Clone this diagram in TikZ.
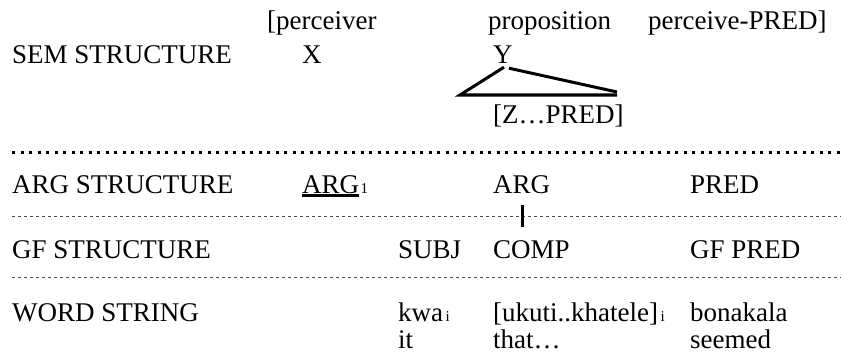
\documentclass[tikz,border=0pt]{standalone}
\usepackage{fontspec}
\setmainfont{Liberation Serif}
\begin{document}
\begin{tikzpicture}[x=1pt,y=-1pt,
  txt/.style={anchor=base west,inner sep=0pt,font=\fontsize{27}{27}\selectfont},
  sub/.style={anchor=base west,inner sep=0pt,font=\fontsize{15}{15}\selectfont},
  heavy/.style={line width=3pt},
  bigdots/.style={line width=3pt,dash pattern=on 3pt off 5.5pt},
  smalldots/.style={line width=0.8pt,dash pattern=on 3pt off 3pt,black!70}]
\useasboundingbox (0,0) rectangle (841,353);
% row 0
\node[txt] (perc) at (267,30) {[perceiver};
\node[txt] (prop) at (488,30) {proposition};
\node[txt] (pp) at (648,30) {perceive-PRED]};
% SEM
\node[txt] (sem) at (12,64) {SEM STRUCTURE};
\node[txt] (X) at (302,64) {X};
\node[txt] (Y) at (493,64) {Y};
\coordinate (tl) at (460,95);
\coordinate (tr) at (617,95);
\coordinate (trr) at (617,92);
\draw[heavy] ([xshift=1pt,yshift=-3pt]Y.south) -- (tl) -- (tr);
\draw[heavy] ([xshift=6pt,yshift=-4pt]Y.south) -- (trr);
\node[txt] (zp) at (493,123) {[Z…PRED]};
% dotted 1
\coordinate (d1a) at (12,152);
\coordinate (d1b) at (841,152);
\draw[bigdots] (d1a) -- (d1b);
% ARG
\node[txt] (argst) at (12,193) {ARG STRUCTURE};
\node[txt] (argone) at (302,193) {ARG};
\node[sub] (one) at ([xshift=1pt]argone.base east) {1};
\draw[line width=2.5pt] ([yshift=-2.5pt]argone.base west) -- ([yshift=-2.5pt]argone.base east);
\node[txt] (argtwo) at (493,193) {ARG};
\node[txt] (pred) at (690,193) {PRED};
% dotted 2
\coordinate (d2a) at (12,216);
\coordinate (d2b) at (841,216);
\draw[smalldots] (d2a) -- (d2b);
\coordinate (tk1) at (522,205);
\coordinate (tk2) at (522,227);
\draw[heavy] (tk1) -- (tk2);
% GF
\node[txt] (gfst) at (12,258) {GF STRUCTURE};
\node[txt] (subj) at (398,258) {SUBJ};
\node[txt] (comp) at (493,258) {COMP};
\node[txt] (gfp) at (690,258) {GF PRED};
% dotted 3
\coordinate (d3a) at (12,277);
\coordinate (d3b) at (841,277);
\draw[smalldots] (d3a) -- (d3b);
% WORD
\node[txt] (ws) at (12,321) {WORD STRING};
\node[txt] (kwa) at (398,321) {kwa};
\node[sub] (kwai) at ([xshift=2pt]kwa.base east) {i};
\node[txt] (uk) at (493,321) {[ukuti..khatele]};
\node[sub] (uki) at ([xshift=2pt]uk.base east) {i};
\node[txt] (bon) at (690,321) {bonakala};
\node[txt] (it) at (398,348) {it};
\node[txt] (that) at (493,348) {that…};
\node[txt] (seem) at (690,348) {seemed};
\end{tikzpicture}
\end{document}
